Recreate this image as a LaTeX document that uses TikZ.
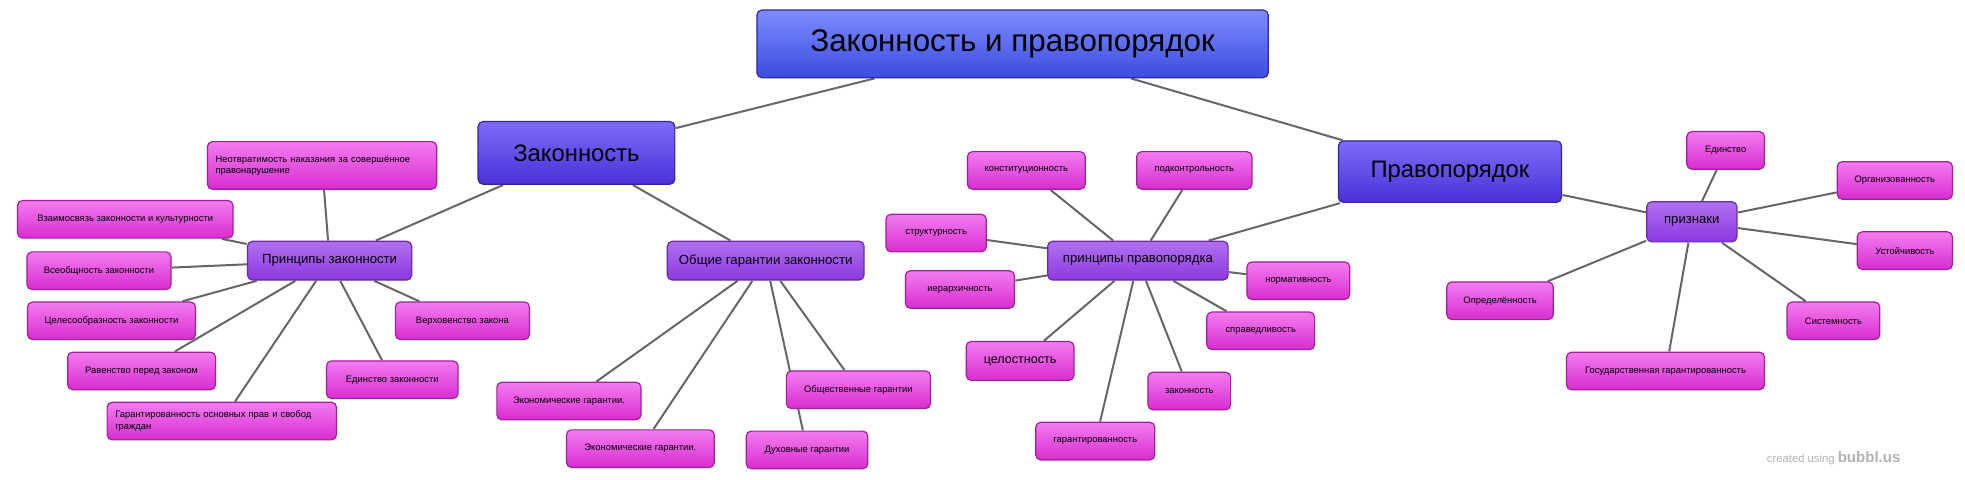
\documentclass[tikz,border=0pt]{standalone}
\usepackage{fontspec}
\setmainfont{Liberation Sans}
\usetikzlibrary{backgrounds}
\definecolor{edgegray}{HTML}{666666}
\tikzset{
  box/.style={draw, line width=1.2pt, rounded corners=5pt, inner sep=3pt},
  leaf/.style={box, draw=leafline, top color=leaftop, bottom color=leafbot, minimum height=30pt, font=\fontsize{7.5}{9}\selectfont},
  mid/.style={box, draw=midline, top color=midtop, bottom color=midbot, minimum height=31pt, font=\fontsize{10.5}{12}\selectfont},
  main/.style={box, draw=mainline, top color=maintop, bottom color=mainbot, font=\fontsize{19}{22}\selectfont},
  link/.style={edgegray, line width=2pt},
}
\definecolor{leaftop}{HTML}{F47CF0}\definecolor{leafbot}{HTML}{D82CD0}\definecolor{leafline}{HTML}{A0209A}
\definecolor{midtop}{HTML}{B070F0}\definecolor{midbot}{HTML}{8C38E0}\definecolor{midline}{HTML}{6A2AA8}
\definecolor{maintop}{HTML}{7C6CF8}\definecolor{mainbot}{HTML}{4A30D8}\definecolor{mainline}{HTML}{3424A0}
\definecolor{titletop}{HTML}{7C8CFC}\definecolor{titlebot}{HTML}{3C4CE0}
\begin{document}
\begin{tikzpicture}[x=1pt, y=-1pt, scale=1.253, every node/.style={transform shape}]
\useasboundingbox (0,0) rectangle (1568,383);
% top
\node[main, top color=titletop, bottom color=titlebot, minimum width=408pt, minimum height=54pt, font=\fontsize{25}{28}\selectfont] (title) at (808,35) {Законность и правопорядок};
\node[main, minimum width=157pt, minimum height=50pt] (zak) at (460,122) {Законность};
\node[main, minimum width=178pt, minimum height=49pt] (prav) at (1157,137) {Правопорядок};
% principles of legality
\node[mid, minimum width=131pt] (pz) at (263,208) {Принципы законности};
\node[leaf, minimum width=183pt, minimum height=38pt, align=left, text width=170pt] (neotvr) at (257,132) {Неотвратимость наказания за совершённое\\правонарушение};
\node[leaf, minimum width=172pt] (vzaim) at (100,175) {Взаимосвязь законности и культурности};
\node[leaf, minimum width=115pt] (vseob) at (79,216) {Всеобщность законности};
\node[leaf, minimum width=134pt] (celes) at (89,256) {Целесообразность законности};
\node[leaf, minimum width=118pt] (raven) at (113,296) {Равенство перед законом};
\node[leaf, minimum width=183pt, align=left, text width=170pt] (garpr) at (177,336) {Гарантированность основных прав и свобод\\граждан};
\node[leaf, minimum width=105pt] (edinz) at (313,303) {Единство законности};
\node[leaf, minimum width=107pt] (verh) at (369,256) {Верховенство закона};
% guarantees
\node[mid, minimum width=157pt] (obg) at (611,208) {Общие гарантии законности};
\node[leaf, minimum width=115pt] (ekon1) at (454,320) {Экономические гарантии.};
\node[leaf, minimum width=118pt] (ekon2) at (511,358) {Экономические гарантии.};
\node[leaf, minimum width=115pt] (obsch) at (685,311) {Общественные гарантии};
\node[leaf, minimum width=97pt] (duh) at (644,359) {Духовные гарантии};
% principles of order
\node[mid, minimum width=144pt] (pp) at (908,208) {принципы правопорядка};
\node[leaf, minimum width=94pt] (konst) at (819,136) {конституционность};
\node[leaf, minimum width=92pt] (podk) at (953,136) {подконтрольность};
\node[leaf, minimum width=80pt] (strukt) at (747,186) {структурность};
\node[leaf, minimum width=87pt] (ierar) at (766,231) {иерархичность};
\node[leaf, minimum width=82pt] (norm) at (1036,224) {нормативность};
\node[leaf, minimum width=86pt] (sprav) at (1006,264) {справедливость};
\node[leaf, minimum width=86pt, minimum height=31pt, font=\fontsize{10}{12}\selectfont] (celost) at (814,288) {целостность};
\node[leaf, minimum width=66pt] (zakon) at (949,312) {законность};
\node[leaf, minimum width=95pt] (garant) at (874,352) {гарантированность};
% features
\node[mid, minimum width=72pt, minimum height=32pt] (priz) at (1350,177) {признаки};
\node[leaf, minimum width=62pt] (edin) at (1377,120) {Единство};
\node[leaf, minimum width=92pt] (org) at (1512,144) {Организованность};
\node[leaf, minimum width=76pt] (ust) at (1520,200) {Устойчивость};
\node[leaf, minimum width=74pt] (sist) at (1463,256) {Системность};
\node[leaf, minimum width=85pt] (opred) at (1197,240) {Определённость};
\node[leaf, minimum width=158pt] (gosg) at (1329,296) {Государственная гарантированность};
\node[anchor=east, font=\fontsize{9}{10}\selectfont, text=black!30] (credit) at (1520,366) {created using \textbf{\fontsize{12}{13}\selectfont bubbl.us}};
% links
\begin{scope}[on background layer]
\draw[link] (title) -- (zak);
\draw[link] (title) -- (prav);
\draw[link] (zak) -- (pz);
\draw[link] (zak) -- (obg);
\draw[link] (prav) -- (pp);
\draw[link] (prav) -- (priz);
\foreach \n in {neotvr,vzaim,vseob,celes,raven,garpr,edinz,verh}
  \draw[link] (pz) -- (\n);
\foreach \n in {ekon1,ekon2,obsch,duh}
  \draw[link] (obg) -- (\n);
\foreach \n in {konst,podk,strukt,ierar,norm,sprav,celost,zakon,garant}
  \draw[link] (pp) -- (\n);
\foreach \n in {edin,org,ust,sist,opred,gosg}
  \draw[link] (priz) -- (\n);
\end{scope}
\end{tikzpicture}
\end{document}
